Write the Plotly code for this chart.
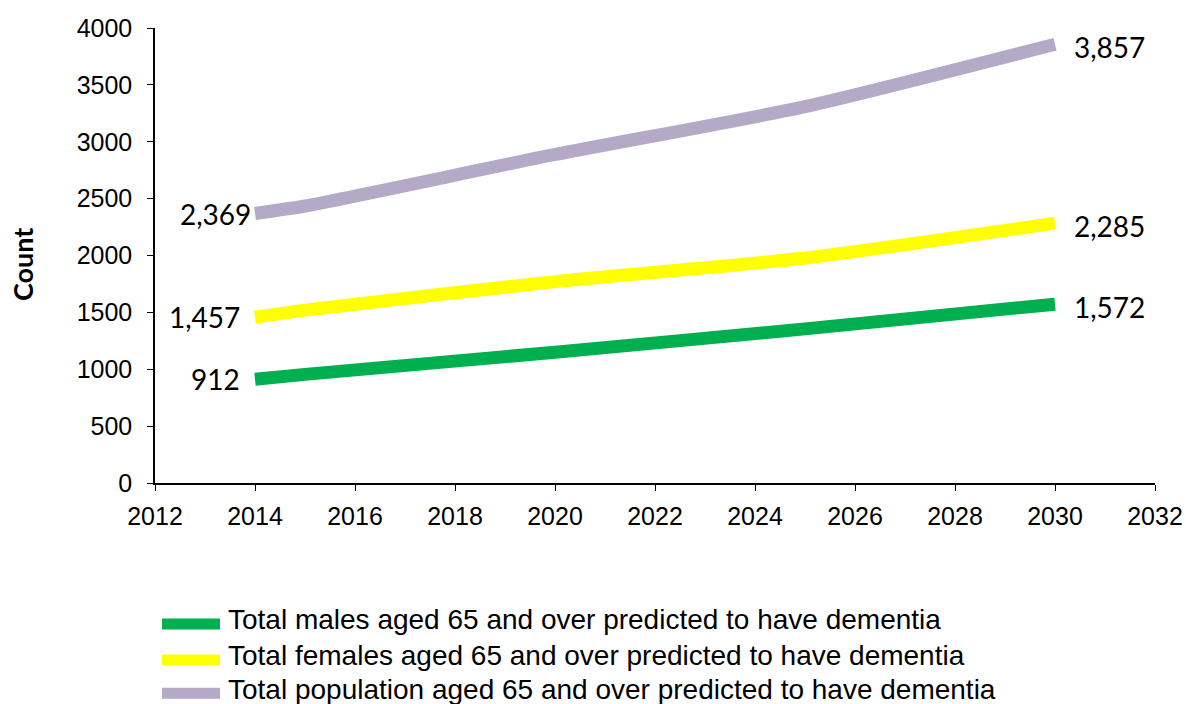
import plotly.graph_objects as go

years = [2014, 2015, 2020, 2025, 2030]
males = [912, 955, 1150, 1355, 1572]
females = [1457, 1520, 1770, 1978, 2285]
total = [2369, 2435, 2888, 3308, 3857]

names = [
    "Total males aged 65 and over predicted to have dementia",
    "Total females aged 65 and over predicted to have dementia",
    "Total population aged 65 and over predicted to have dementia",
]
colours = ["#00B050", "#FFFF00", "#B4AAC8"]
series = [males, females, total]

fig = go.Figure()
for name, col, vals in zip(names, colours, series):
    fig.add_trace(go.Scatter(x=years, y=vals, name=name, mode="lines",
                             line=dict(color=col, width=13, shape="spline", smoothing=0.6),
                             hoverinfo="skip"))

# data labels at first and last points
label_font = dict(family="Lato, Noto Sans, sans-serif", size=28, color="black")
left_shift = [-13, -13, -2]
for vals, ls in zip(series, left_shift):
    fig.add_annotation(x=years[0], y=vals[0], text=f"{vals[0]:,}", showarrow=False,
                       xanchor="right", xshift=ls, font=label_font)
    fig.add_annotation(x=years[-1], y=vals[-1], text=f"{vals[-1]:,}", showarrow=False,
                       xanchor="left", xshift=17, yshift=-3, font=label_font)

# legend drawn by hand below the plot (native legend would push the margins)
row_y = [-0.301, -0.380, -0.453]
for name, col, ry in zip(names, colours, row_y):
    fig.add_shape(type="line", xref="paper", yref="paper", x0=0.007, x1=0.065,
                  y0=ry - 0.009, y1=ry - 0.009, line=dict(color=col, width=11))
    fig.add_annotation(xref="paper", yref="paper", x=0.071, y=ry, text=name,
                       showarrow=False, xanchor="left", yanchor="middle",
                       font=dict(family="Arial, Liberation Sans, sans-serif", size=28))

fig.add_annotation(xref="paper", yref="paper", x=-0.133, y=0.479, text="<b>Count</b>",
                   textangle=-90, showarrow=False, xanchor="center", yanchor="middle",
                   font=dict(family="Lato, Noto Sans, sans-serif", size=27))

fig.update_layout(
    width=1186, height=704,
    margin=dict(l=155, r=31, t=28, b=221),
    plot_bgcolor="white", paper_bgcolor="white",
    font=dict(family="Arial, Liberation Sans, sans-serif", size=25, color="black"),
    showlegend=False,
)
fig.update_xaxes(range=[2012, 2032], dtick=2, showgrid=False, zeroline=False,
                 showline=True, linecolor="black", linewidth=1.5, automargin=False,
                 ticks="outside", ticklen=6, tickcolor="black", tickfont=dict(size=25),
                 ticklabelstandoff=4, ticklabeloverflow="allow")
fig.update_yaxes(range=[0, 4000], dtick=500, showgrid=False, zeroline=False,
                 showline=True, linecolor="black", linewidth=1.5, automargin=False,
                 ticks="outside", ticklen=6, tickcolor="black", tickfont=dict(size=25),
                 ticklabelstandoff=10)

# drop the browser's default body margin so the figure fills the window exactly
fig.write_html("out.html", config={"displayModeBar": False},
               post_script="document.body.style.margin='0';")
